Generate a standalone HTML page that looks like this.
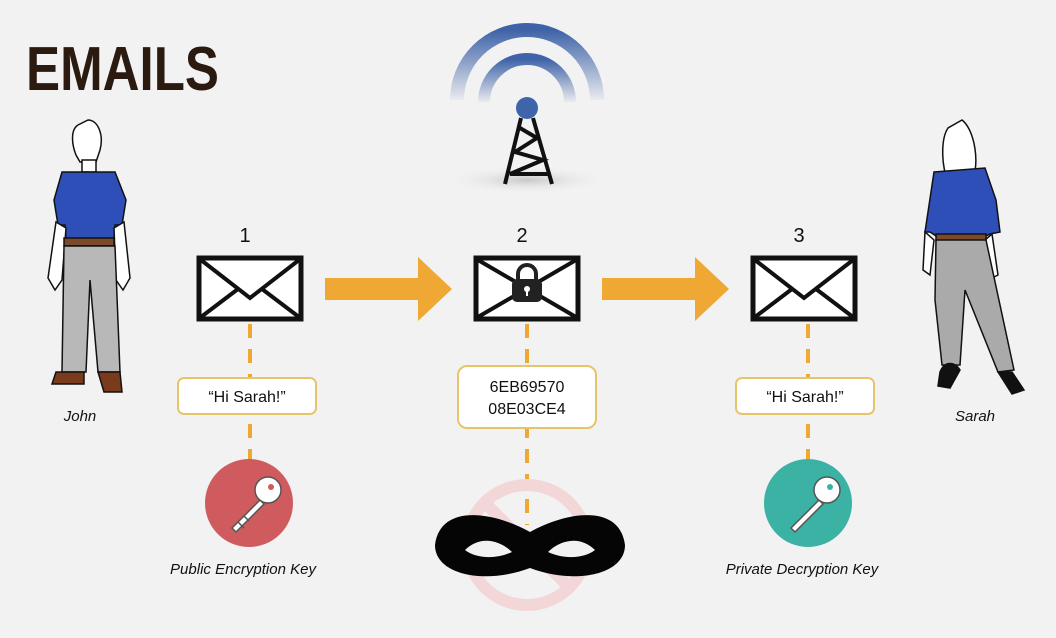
<!DOCTYPE html>
<html><head><meta charset="utf-8"><style>
html,body{margin:0;padding:0;background:#f2f2f2;}
svg{display:block}
text{font-family:"Liberation Sans",sans-serif;}
</style></head><body>
<svg width="1056" height="638" viewBox="0 0 1056 638" xmlns="http://www.w3.org/2000/svg">
<defs>
<radialGradient id="sh" cx="0.5" cy="0.5" r="0.5"><stop offset="0" stop-color="#c8c8c8"/><stop offset="1" stop-color="#f2f2f2" stop-opacity="0"/></radialGradient>
<linearGradient id="arcg" x1="0" y1="0" x2="0" y2="1"><stop offset="0" stop-color="#3f63a8"/><stop offset="1" stop-color="#3f63a8" stop-opacity="0.05"/></linearGradient>
</defs>
<rect width="1056" height="638" fill="#f2f2f2"/>
<text x="26" y="90" font-size="62" font-weight="bold" fill="#2a1a10" textLength="193" lengthAdjust="spacingAndGlyphs">EMAILS</text>

<!-- tower -->
<ellipse cx="527" cy="180" rx="85" ry="14" fill="url(#sh)"/>
<path d="M457 100 A70 70 0 0 1 597 100" fill="none" stroke="url(#arcg)" stroke-width="14"/>
<path d="M484 102 A43 43 0 0 1 570 102" fill="none" stroke="url(#arcg)" stroke-width="12"/>
<circle cx="527" cy="108" r="11" fill="#3e64aa"/>
<g stroke="#111" stroke-width="4" fill="none">
<path d="M521 118 L505 184 M533 118 L552 184 M520 128 L537 138 L515 152 L543 160 L510 174 L548 174"/>
</g>

<!-- numbers -->
<text x="245" y="242" font-size="20" text-anchor="middle" fill="#111">1</text>
<text x="522" y="242" font-size="20" text-anchor="middle" fill="#111">2</text>
<text x="799" y="242" font-size="20" text-anchor="middle" fill="#111">3</text>

<!-- envelopes -->
<g fill="#fff" stroke="#111" stroke-width="5">
<rect x="199" y="258" width="102" height="61"/>
<rect x="476" y="258" width="102" height="61"/>
<rect x="753" y="258" width="102" height="61"/>
</g>
<g fill="none" stroke="#111" stroke-width="4">
<path d="M201 260 L250 298 L299 260 M201 317 L238 289 M299 317 L262 289"/>
<path d="M478 260 L576 317 M576 260 L478 317"/>
<path d="M755 260 L804 298 L853 260 M755 317 L792 289 M853 317 L816 289"/>
</g>
<path d="M518 280 v-6 a9 9 0 0 1 18 0 v6" fill="none" stroke="#222" stroke-width="4"/>
<rect x="512" y="279" width="30" height="23" rx="5" fill="#222"/>
<circle cx="527" cy="289" r="3" fill="#fff"/><rect x="526" y="289" width="2" height="7" fill="#fff"/>

<!-- arrows -->
<path d="M325 278 H418 V257 L452 289 L418 321 V300 H325 Z" fill="#efa834"/>
<path d="M602 278 H695 V257 L729 289 L695 321 V300 H602 Z" fill="#efa834"/>

<!-- dashed lines -->
<g stroke="#efa834" stroke-width="4" stroke-dasharray="14,11">
<line x1="250" y1="324" x2="250" y2="460"/>
<line x1="527" y1="324" x2="527" y2="525"/>
<line x1="808" y1="324" x2="808" y2="460"/>
</g>

<!-- boxes -->
<g fill="#fff" stroke="#e6c56a" stroke-width="2">
<rect x="178" y="378" width="138" height="36" rx="6"/>
<rect x="458" y="366" width="138" height="62" rx="9"/>
<rect x="736" y="378" width="138" height="36" rx="6"/>
</g>
<text x="247" y="402" font-size="16" text-anchor="middle" fill="#111">“Hi Sarah!”</text>
<text x="805" y="402" font-size="16" text-anchor="middle" fill="#111">“Hi Sarah!”</text>
<text x="527" y="392" font-size="16" text-anchor="middle" fill="#111">6EB69570</text>
<text x="527" y="414" font-size="16" text-anchor="middle" fill="#111">08E03CE4</text>

<!-- keys -->
<circle cx="249" cy="503" r="44" fill="#cf5b5e"/>
<circle cx="808" cy="503" r="44" fill="#3bb2a3"/>
<g fill="#fff" stroke="#555" stroke-width="1.5">
<path d="M232 528 L260 500 L264 504 L236 532 Z M238 522 l6 6 M244 516 l5 5"/>
<circle cx="268" cy="490" r="13"/>
<path d="M791 528 L819 500 L823 504 L795 532 Z"/>
<circle cx="827" cy="490" r="13"/>
</g>
<circle cx="271" cy="487" r="3" fill="#cf5b5e"/>
<circle cx="830" cy="487" r="3" fill="#3bb2a3"/>
<text x="243" y="574" font-size="15" font-style="italic" text-anchor="middle" fill="#111">Public Encryption Key</text>
<text x="802" y="574" font-size="15" font-style="italic" text-anchor="middle" fill="#111">Private Decryption Key</text>

<!-- forbidden + mask -->
<circle cx="527" cy="545" r="60" fill="none" stroke="#f3d6d8" stroke-width="12"/>
<line x1="484" y1="502" x2="570" y2="588" stroke="#f3d6d8" stroke-width="12"/>
<path d="M435 545 C440 505 490 510 530 532 C570 510 620 505 625 545 C625 575 575 585 530 568 C485 585 435 575 435 545 Z" fill="#050505"/>
<path d="M465 550 C480 535 500 540 512 552 C495 560 475 558 465 550 Z M548 552 C560 540 580 535 595 550 C585 558 565 560 548 552 Z" fill="#f2f2f2"/>

<!-- John -->
<g stroke="#111" stroke-width="1.5">
<path d="M78 125 C70 130 72 145 76 155 L80 162 H96 L100 150 C104 135 98 120 88 120 Z" fill="#fff"/>
<rect x="82" y="160" width="14" height="12" fill="#fff"/>
<path d="M62 172 L115 172 L126 200 L122 225 L115 225 L114 240 H66 L65 225 L58 225 L54 200 Z" fill="#2f4fb8"/>
<path d="M56 222 L48 278 L55 290 L62 280 L66 228 Z M124 222 L130 278 L123 290 L116 280 L114 228 Z" fill="#fff"/>
<rect x="64" y="238" width="50" height="8" fill="#7a4a2a"/>
<path d="M64 246 L115 246 L120 372 L98 372 L90 280 L86 372 L62 372 Z" fill="#b8b8b8"/>
<path d="M56 372 H84 V384 H52 Z M98 372 H120 L122 392 H104 Z" fill="#7a3b1c"/>
</g>
<text x="80" y="421" font-size="15" font-style="italic" text-anchor="middle" fill="#111">John</text>

<!-- Sarah -->
<g stroke="#111" stroke-width="1.5">
<path d="M948 128 C940 140 942 170 948 180 L972 180 C980 165 975 130 962 120 Z" fill="#fff"/>
<path d="M934 172 L985 168 L996 200 L1000 232 L990 234 L986 236 H936 L930 232 L925 232 Z" fill="#2f4fb8"/>
<path d="M925 232 L923 270 L930 275 L934 240 Z M992 234 L998 275 L988 280 L985 240 Z" fill="#fff"/>
<rect x="936" y="234" width="50" height="7" fill="#7a4a2a"/>
<path d="M936 240 L986 240 L1014 370 L998 372 L965 290 L960 365 L942 365 L935 300 Z" fill="#aaa"/>
<path d="M940 372 C945 360 955 362 960 370 L950 388 L938 386 Z M998 372 L1012 372 L1024 390 L1012 394 Z" fill="#111"/>
</g>
<text x="975" y="421" font-size="15" font-style="italic" text-anchor="middle" fill="#111">Sarah</text>
</svg>
</body></html>
